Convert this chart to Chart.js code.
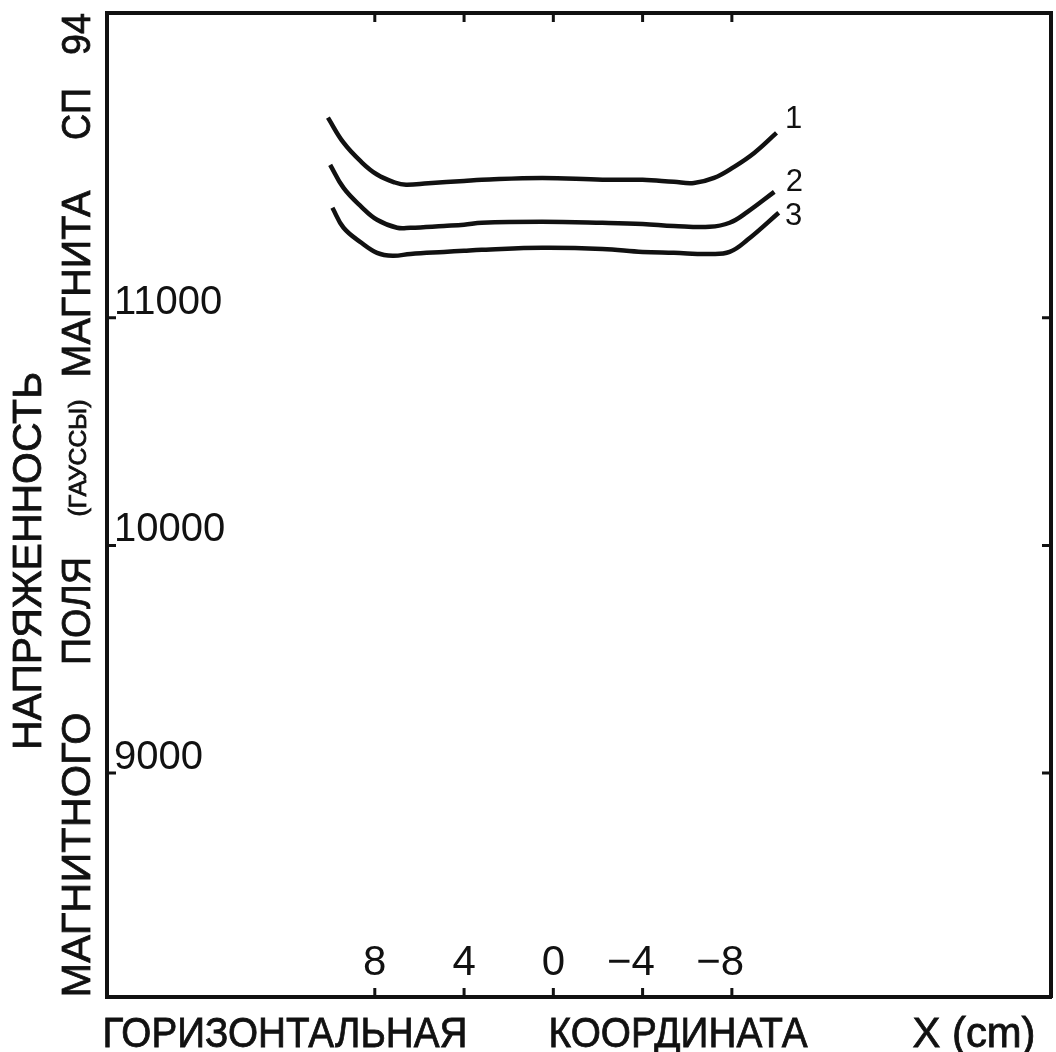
<!DOCTYPE html>
<html>
<head>
<meta charset="utf-8">
<script src="https://cdn.jsdelivr.net/npm/chart.js@4.4.1/dist/chart.umd.min.js"></script>
<style>
  html, body { margin: 0; padding: 0; background: #fff; }
  #wrap { width: 1056px; height: 1052px; position: relative; }
</style>
</head>
<body>
<div id="wrap"><canvas id="chart"></canvas></div>
<script>
// horizontal coordinate X (cm), axis runs from +8 on the left to -8 on the right
const xTicks = [8, 4, 0, -4, -8];
// field strength (gauss)
const yTicks = [9000, 10000, 11000];

// curve 1
const x1 = [10.1, 9.4, 8.6, 7.9, 7.1, 6.6, 5.6, 4.0, 3.2, 0.5, -2.2, -4.0, -5.4, -6.3, -7.2, -8.1, -9.0, -10.0];
const h1 = [11880, 11770, 11685, 11630, 11595, 11585, 11592, 11602, 11607, 11615, 11607, 11607, 11598, 11593, 11615, 11664, 11725, 11813];
// curve 2
const x2 = [10.0, 9.4, 8.6, 7.9, 7.0, 6.4, 4.9, 4.0, 3.2, 0.5, -2.2, -4.0, -5.4, -7.0, -7.9, -8.7, -9.9];
const h2 = [11673, 11571, 11488, 11431, 11396, 11396, 11404, 11409, 11418, 11422, 11418, 11413, 11404, 11400, 11418, 11466, 11554];
// curve 3
const x3 = [9.9, 9.4, 8.6, 7.9, 7.2, 6.4, 4.9, 4.0, 3.2, 0.5, -2.2, -4.0, -5.4, -7.0, -7.9, -8.7, -10.1];
const h3 = [11484, 11396, 11330, 11286, 11273, 11281, 11290, 11295, 11299, 11308, 11303, 11290, 11286, 11281, 11290, 11343, 11462];

const curveNames = ['1', '2', '3'];
const yTitleWords = ['НАПРЯЖЕННОСТЬ', 'МАГНИТНОГО', 'ПОЛЯ', '(ГАУССЫ)', 'МАГНИТА', 'СП', '94'];
const xTitleWords = ['ГОРИЗОНТАЛЬНАЯ', 'КООРДИНАТА', 'X (cm)'];

const INK = '#111';
const FONT = '"Liberation Sans", Arial, sans-serif';

// where each title word sits: centre x, centre y, length, font size
const yTitleLayout = [
  [27, 561, 378, 41],
  [76, 855, 285, 41],
  [76, 611, 108, 41],
  [78, 458, 117, 23],
  [76, 284, 187, 41],
  [76, 114, 52, 41],
  [76, 34, 42, 41],
];
const xTitleLayout = [
  [285, 1032, 365, 42],
  [678, 1032, 259, 42],
  [974, 1032, 123, 42],
];
// curve number offsets from the last point
const nameOffsets = [[17, -13], [20, -9], [15, 4]];

function toPoints(xs, ys) {
  return xs.map((x, i) => ({ x: x, y: ys[i] }));
}

function fitText(ctx, text, cx, cy, len, size, vertical) {
  ctx.save();
  ctx.font = size + 'px ' + FONT;
  const w = ctx.measureText(text).width;
  ctx.translate(cx, cy);
  if (vertical) ctx.rotate(-Math.PI / 2);
  ctx.scale(len / w, 1);
  ctx.textAlign = 'center';
  ctx.textBaseline = 'alphabetic';
  ctx.fillStyle = INK;
  ctx.strokeStyle = INK;
  ctx.lineWidth = 0.8;
  ctx.fillText(text, 0, size * 0.35);
  ctx.strokeText(text, 0, size * 0.35);
  ctx.restore();
}

const decorations = {
  id: 'decorations',
  afterDraw(chart) {
    const { ctx, chartArea: a, scales } = chart;
    const len = 9;
    ctx.save();
    ctx.strokeStyle = INK;
    ctx.lineWidth = 3;
    ctx.beginPath();
    xTicks.forEach(v => {
      const px = scales.x.getPixelForValue(v);
      ctx.moveTo(px, a.bottom - 1); ctx.lineTo(px, a.bottom - len);
      ctx.moveTo(px, a.top + 1); ctx.lineTo(px, a.top + len);
    });
    yTicks.forEach(v => {
      const py = scales.y.getPixelForValue(v);
      ctx.moveTo(a.left + 1, py); ctx.lineTo(a.left + len, py);
      ctx.moveTo(a.right - 1, py); ctx.lineTo(a.right - len, py);
    });
    ctx.stroke();

    // curve numbers at the right-hand ends
    ctx.font = '31px ' + FONT;
    ctx.fillStyle = INK;
    ctx.textAlign = 'center';
    ctx.textBaseline = 'middle';
    chart.data.datasets.forEach((ds, i) => {
      const pts = chart.getDatasetMeta(i).data;
      const last = pts[pts.length - 1];
      ctx.fillText(curveNames[i], last.x + nameOffsets[i][0], last.y + nameOffsets[i][1]);
    });
    ctx.restore();

    yTitleWords.forEach((t, i) => {
      const l = yTitleLayout[i];
      fitText(ctx, t, l[0], l[1], l[2], l[3], true);
    });
    xTitleWords.forEach((t, i) => {
      const l = xTitleLayout[i];
      fitText(ctx, t, l[0], l[1], l[2], l[3], false);
    });
  }
};

const lineStyle = {
  borderColor: INK,
  borderWidth: 4.5,
  pointRadius: 0,
  fill: false,
  tension: 0.4,
};

const frame = { display: true, color: INK, width: 4 };
// the inside labels must not push the frame away from the canvas edge
const noPad = axis => { axis.paddingTop = 0; axis.paddingBottom = 0; };

new Chart(document.getElementById('chart'), {
  type: 'line',
  data: {
    datasets: [
      { label: curveNames[0], data: toPoints(x1, h1), ...lineStyle },
      { label: curveNames[1], data: toPoints(x2, h2), ...lineStyle },
      { label: curveNames[2], data: toPoints(x3, h3), ...lineStyle },
    ],
  },
  options: {
    responsive: true,
    maintainAspectRatio: false,
    animation: false,
    layout: { padding: { left: 93, top: 13, right: 5, bottom: 39 } },
    plugins: {
      legend: { display: false },
      tooltip: { enabled: false },
    },
    scales: {
      x: {
        type: 'linear',
        position: 'bottom',
        reverse: true,
        min: -22.3,
        max: 20,
        afterBuildTicks: axis => { axis.ticks = xTicks.map(v => ({ value: v })); },
        grid: { display: false, drawTicks: false },
        border: frame,
        ticks: {
          mirror: true,
          padding: 8,
          color: INK,
          font: { family: FONT, size: 42 },
          maxRotation: 0,
          callback: v => (v < 0 ? '\u2212' + (-v) + '\u2007' : String(v)),
        },
      },
      xTop: {
        type: 'linear',
        position: 'top',
        reverse: true,
        min: -22.3,
        max: 20,
        grid: { display: false, drawTicks: false },
        border: frame,
        ticks: { display: false },
      },
      y: {
        type: 'linear',
        position: 'left',
        min: 8015,
        max: 12340,
        afterBuildTicks: axis => { axis.ticks = yTicks.map(v => ({ value: v })); },
        afterFit: noPad,
        grid: { display: false, drawTicks: false },
        border: frame,
        ticks: {
          mirror: true,
          padding: 7,
          labelOffset: -15,
          color: INK,
          font: { family: FONT, size: 40 },
          callback: v => String(v),
        },
      },
      yRight: {
        type: 'linear',
        position: 'right',
        min: 8015,
        max: 12340,
        afterFit: noPad,
        grid: { display: false, drawTicks: false },
        border: frame,
        ticks: { display: false },
      },
    },
  },
  plugins: [decorations],
});
</script>
</body>
</html>
